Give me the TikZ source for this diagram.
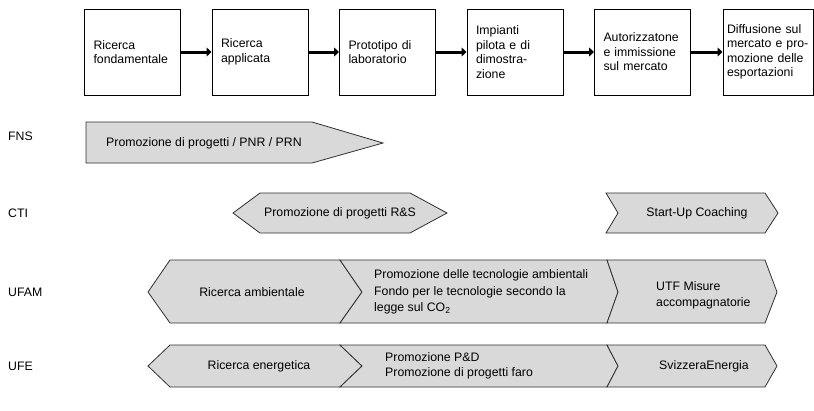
\documentclass[tikz,border=0pt]{standalone}
\usepackage{fontspec}
\setmainfont{Liberation Sans}
\usetikzlibrary{positioning,arrows.meta}
\definecolor{BandGray}{HTML}{D9D9D9}
\definecolor{BandLine}{HTML}{303030}

\begin{document}
\begin{tikzpicture}[x=1pt,y=-1pt,
    every node/.style={font=\fontsize{12.3}{14.5}\selectfont},
    stage/.style={draw,line width=1pt,minimum height=86pt,text width=78pt,inner xsep=9pt,align=left},
    flow/.style={line width=3pt,-{Triangle[length=5pt,width=9pt]}},
    band/.style={fill=BandGray,draw=BandLine,line width=0.8pt,line join=miter},
    actor/.style={anchor=west,inner sep=0pt},
    txt/.style={inner sep=0pt,align=left}]
        \useasboundingbox (0,0) rectangle (814,410);

        % Phases of innovation
        \node[stage] (fond) at (132.5,52) {Ricerca\\fondamentale};
        \node[stage] (appl) at (260,52) {Ricerca\\applicata};
        \node[stage] (proto) at (387.5,52) {Prototipo di\\laboratorio};
        \node[stage] (pilot) at (515,52) {Impianti\\pilota e di\\dimostra-\\zione};
        \node[stage] (autor) at (642.5,52) {Autorizzatone\\e immissione\\sul mercato};
        \node[stage,text width=82pt,inner xsep=4pt] (diffu) at (768,52) {Diffusione sul\\mercato e pro-\\mozione delle\\esportazioni};

        % Arrows
        \draw[flow] (fond) -- (appl);
        \draw[flow] (appl) -- (proto);
        \draw[flow] (proto) -- (pilot);
        \draw[flow] (pilot) -- (autor);
        \draw[flow] (autor) -- (diffu);

        % Actors
        \node[actor] (fns) at (8,136) {FNS};
        \node[actor] (cti) at (8,213) {CTI};
        \node[actor] (ufam) at (8,292) {UFAM};
        \node[actor] (ufe) at (8,366) {UFE};

        % FNS
        \draw[band] (86,122) -- (312,122) -- (383,143) -- (312,163) -- (86,163) -- cycle;
        \node[txt,anchor=west] (fnsprog) at (106,143) {Promozione di progetti / PNR / PRN};

        % CTI
        \draw[band] (233,213) -- (260,193) -- (410,193) -- (447,213) -- (410,233) -- (260,233) -- cycle;
        \node[txt] (ctirs) at (340,213) {Promozione di progetti R\&S};
        \draw[band] (606,193) -- (765,193) -- (778,213) -- (765,233) -- (606,233) -- (618,213) -- cycle;
        \node[txt] (ctistart) at (697,213) {Start-Up Coaching};

        % UFAM
        \draw[band] (148,292) -- (170,260) -- (340,260) -- (362,292) -- (340,323) -- (170,323) -- cycle;
        \draw[band] (340,260) -- (607,260) -- (618,292) -- (607,323) -- (340,323) -- (362,292) -- cycle;
        \draw[band] (607,260) -- (765,260) -- (777,292) -- (765,323) -- (607,323) -- (618,292) -- cycle;
        \node[txt] (ufamric) at (252,292) {Ricerca ambientale};
        \node[txt,anchor=west,font=\fontsize{12.3}{16.5}\selectfont] (ufamtec) at (374,292)
            {Promozione delle tecnologie ambientali\\Fondo per le tecnologie secondo la\\legge sul CO\textsubscript{2}};
        \node[txt,anchor=west,font=\fontsize{12.3}{16}\selectfont] (ufamutf) at (656,295) {UTF Misure\\accompagnatorie};

        % UFE
        \draw[band] (148,366) -- (170,345) -- (340,345) -- (362,366) -- (340,387) -- (170,387) -- cycle;
        \draw[band] (340,345) -- (607,345) -- (618,366) -- (607,387) -- (340,387) -- (362,366) -- cycle;
        \draw[band] (607,345) -- (765,345) -- (777,366) -- (765,387) -- (607,387) -- (618,366) -- cycle;
        \node[txt] (uferic) at (259,366) {Ricerca energetica};
        \node[txt,anchor=west,font=\fontsize{12.3}{15}\selectfont] (ufepd) at (385,366) {Promozione P\&D\\Promozione di progetti faro};
        \node[txt] (ufesvi) at (704,366) {SvizzeraEnergia};
      \end{tikzpicture}
\end{document}
